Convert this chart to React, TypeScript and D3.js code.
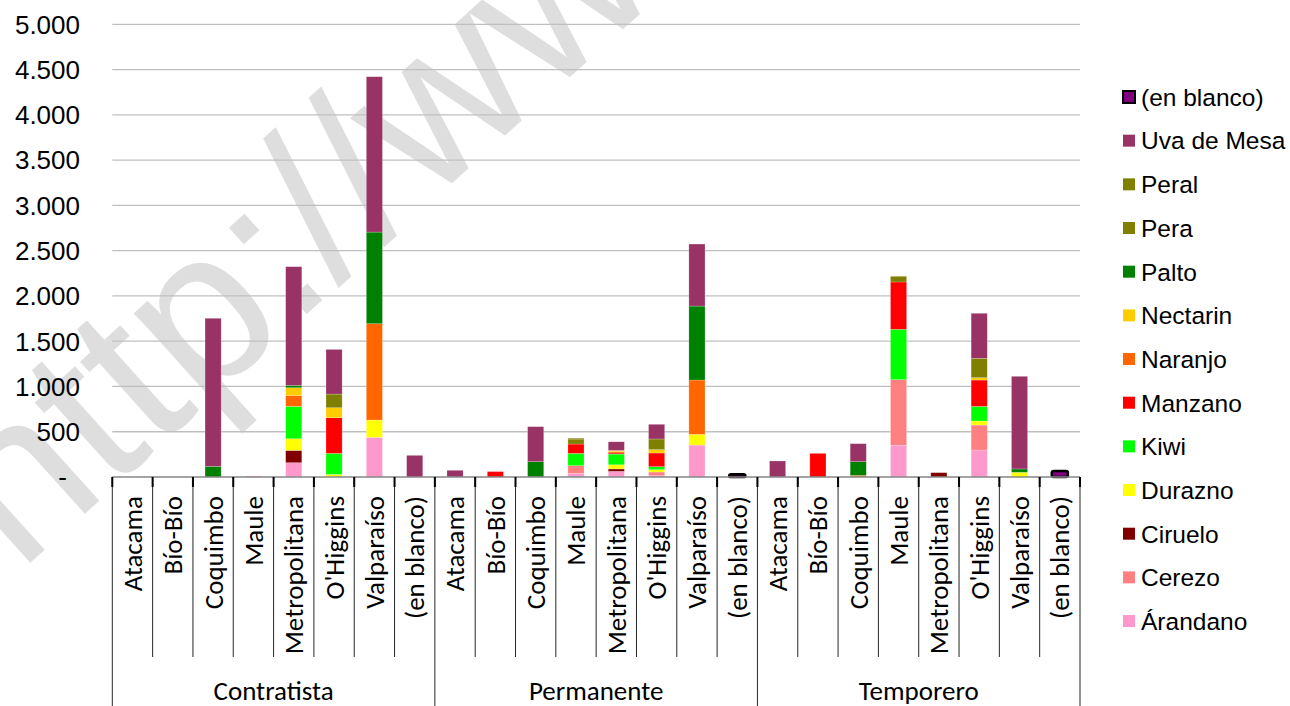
import { useEffect, useRef } from 'react';
import * as d3 from 'd3';

const groups = ['Contratista', 'Permanente', 'Temporero'];
const regions = ['Atacama', 'Bío-Bío', 'Coquimbo', 'Maule', 'Metropolitana', "O'Higgins", 'Valparaíso', '(en blanco)'];

// stack order, bottom to top
const seriesNames = ['Árandano', 'Cerezo', 'Ciruelo', 'Durazno', 'Kiwi', 'Manzano', 'Naranjo', 'Nectarin', 'Palto', 'Pera', 'Peral', 'Uva de Mesa', '(en blanco)'];
const seriesColors = ['#FF99CC', '#FF8080', '#800000', '#FFFF00', '#00FF00', '#FF0000', '#FF6600', '#FFCC00', '#008000', '#808000', '#808000', '#993366', '#800080'];

// values per series: Contratista (8 regions), Permanente (8), Temporero (8)
const arandano = [0, 0, 0, 0, 158, 0, 438, 0, 0, 0, 0, 40, 62, 15, 353, 0, 0, 0, 0, 350, 0, 298, 0, 0];
const cerezo = [0, 0, 0, 10, 0, 0, 0, 0, 0, 0, 0, 85, 0, 40, 0, 0, 0, 0, 0, 725, 0, 276, 0, 0];
const ciruelo = [0, 0, 0, 0, 136, 0, 0, 0, 0, 0, 0, 0, 27, 0, 0, 0, 0, 0, 0, 0, 48, 0, 0, 0];
const durazno = [0, 0, 0, 0, 129, 29, 191, 0, 0, 0, 0, 0, 46, 26, 118, 0, 0, 0, 0, 0, 0, 44, 52, 0];
const kiwi = [0, 0, 0, 0, 357, 232, 0, 0, 0, 0, 0, 136, 118, 33, 0, 0, 0, 0, 0, 556, 0, 162, 0, 0];
const manzano = [0, 0, 0, 0, 0, 394, 0, 0, 0, 60, 0, 103, 12, 151, 0, 0, 0, 261, 0, 523, 0, 291, 0, 0];
const naranjo = [0, 0, 0, 0, 118, 0, 1064, 0, 0, 0, 0, 0, 14, 0, 600, 0, 0, 0, 18, 0, 0, 0, 0, 0];
const nectarin = [0, 0, 0, 0, 88, 110, 0, 0, 0, 0, 0, 0, 14, 37, 0, 0, 0, 0, 0, 0, 0, 26, 0, 0];
const palto = [0, 0, 118, 0, 26, 0, 1012, 0, 0, 0, 169, 0, 0, 0, 817, 0, 0, 0, 151, 0, 0, 0, 37, 0];
const pera = [0, 0, 0, 0, 0, 151, 0, 0, 0, 0, 0, 55, 0, 118, 0, 0, 0, 0, 0, 63, 0, 214, 0, 0];
const peral = [0, 0, 0, 0, 0, 0, 0, 0, 0, 0, 0, 10, 0, 0, 0, 0, 0, 0, 0, 0, 0, 0, 0, 0];
const uvaDeMesa = [0, 0, 1635, 0, 1311, 493, 1716, 239, 74, 0, 387, 0, 96, 162, 685, 0, 177, 0, 199, 0, 0, 497, 1023, 0];
const enBlanco = [0, 0, 0, 0, 0, 0, 0, 0, 0, 0, 0, 0, 0, 0, 0, 30, 0, 0, 0, 0, 0, 0, 0, 65];

const seriesValues = [arandano, cerezo, ciruelo, durazno, kiwi, manzano, naranjo, nectarin, palto, pera, peral, uvaDeMesa, enBlanco];
const yTicks = [0, 500, 1000, 1500, 2000, 2500, 3000, 3500, 4000, 4500, 5000];

const W = 1290;
const H = 706;

export default function App() {
  const svgRef = useRef<SVGSVGElement>(null);

  useEffect(() => {
    if (!svgRef.current) return;
    const svg = d3.select(svgRef.current);
    svg.selectAll('*').remove();

    const left = 112.3, right = 1080, top = 24.3, bottom = 477;
    const keys = groups.flatMap(g => regions.map(r => `${g}|${r}`));
    const rows = keys.map((k, i) => {
      const row: Record<string, any> = { key: k };
      seriesNames.forEach((s, j) => { row[s] = seriesValues[j][i]; });
      return row;
    });

    const x = d3.scaleBand<string>().domain(keys).range([left, right]).paddingInner(0.6).paddingOuter(0.3);
    const step = x.step();
    const y = d3.scaleLinear().domain([0, 5000]).range([bottom, top]);
    const color = d3.scaleOrdinal<string, string>().domain(seriesNames).range(seriesColors);

    // watermark
    svg.append('text')
      .attr('transform', 'translate(19,573) rotate(-42)')
      .attr('font-family', 'Liberation Sans, Arial, sans-serif')
      .attr('font-size', 220)
      .attr('fill', '#dedede')
      .text('http://www.');

    // gridlines
    svg.append('g')
      .selectAll('line')
      .data(yTicks.slice(1))
      .join('line')
      .attr('x1', left).attr('x2', right)
      .attr('y1', d => y(d)).attr('y2', d => y(d))
      .attr('stroke', '#bfbfbf')
      .attr('stroke-width', 1.3);

    // y labels
    svg.append('g')
      .selectAll('text')
      .data(yTicks)
      .join('text')
      .attr('x', d => d === 0 ? 67 : 80)
      .attr('y', d => y(d))
      .attr('dy', '0.36em')
      .attr('text-anchor', 'end')
      .attr('font-family', 'Liberation Sans, Arial, sans-serif')
      .attr('font-size', 26)
      .attr('fill', '#000')
      .text(d => d === 0 ? '-' : d3.format(',')(d).replace(/,/g, '.'));

    // bars
    const stacked = d3.stack<Record<string, any>>().keys(seriesNames)(rows);
    svg.append('g')
      .selectAll('g')
      .data(stacked)
      .join('g')
      .attr('fill', d => color(d.key))
      .selectAll('rect')
      .data(d => d.filter(p => p[1] - p[0] > 0).map(p => ({ p, key: d.key })))
      .join('rect')
      .attr('x', d => x(d.p.data.key)!)
      .attr('width', x.bandwidth())
      .attr('y', d => y(d.p[1]))
      .attr('height', d => y(d.p[0]) - y(d.p[1]))
      .attr('stroke', d => d.key === '(en blanco)' ? '#000' : 'rgba(255,255,255,0.35)')
      .attr('stroke-width', d => d.key === '(en blanco)' ? 2.5 : 0.6)
      .attr('rx', d => d.key === '(en blanco)' ? 2 : 0);

    // x axis
    svg.append('line')
      .attr('x1', left).attr('x2', right)
      .attr('y1', bottom).attr('y2', bottom)
      .attr('stroke', '#868686')
      .attr('stroke-width', 1.5);

    const sepG = svg.append('g').attr('stroke', '#000');
    d3.range(keys.length + 1).forEach(i => {
      const xx = left + i * step;
      const isGroup = i % regions.length === 0;
      sepG.append('line')
        .attr('x1', xx).attr('x2', xx)
        .attr('y1', bottom).attr('y2', isGroup ? H : 657)
        .attr('stroke-width', 1)
        .attr('stroke-opacity', 0.85);
      sepG.append('line')
        .attr('x1', xx).attr('x2', xx)
        .attr('y1', bottom).attr('y2', bottom + 10)
        .attr('stroke-width', 2);
    });

    const labelFont = 'Carlito, Calibri, Lato, sans-serif';
    svg.append('g')
      .selectAll('text')
      .data(keys)
      .join('text')
      .attr('transform', d => `translate(${x(d)! + x.bandwidth() / 2},496) rotate(-90)`)
      .attr('dy', '0.35em')
      .attr('text-anchor', 'end')
      .attr('font-family', labelFont)
      .attr('font-size', 27)
      .attr('fill', '#000')
      .text(d => d.split('|')[1]);

    svg.append('g')
      .selectAll('text')
      .data(groups)
      .join('text')
      .attr('x', (g, i) => left + (i + 0.5) * regions.length * step)
      .attr('y', 700)
      .attr('text-anchor', 'middle')
      .attr('font-family', labelFont)
      .attr('font-size', 27)
      .attr('fill', '#000')
      .text(g => g);

    // legend, reverse order
    const legendItems = seriesNames.slice().reverse();
    const lg = svg.append('g')
      .selectAll('g')
      .data(legendItems)
      .join('g')
      .attr('transform', (d, i) => `translate(1123,${97 + i * 43.67})`);
    lg.append('rect')
      .attr('x', 0).attr('y', -6)
      .attr('width', 12).attr('height', 12)
      .attr('fill', d => color(d))
      .attr('stroke', d => d === '(en blanco)' ? '#000' : 'none')
      .attr('stroke-width', 2);
    lg.append('text')
      .attr('x', 18)
      .attr('dy', '0.36em')
      .attr('font-family', 'Liberation Sans, Arial, sans-serif')
      .attr('font-size', 24.5)
      .attr('fill', '#000')
      .text(d => d);
  }, []);

  return (
    <svg
      ref={svgRef}
      width={W}
      height={H}
      style={{ position: 'absolute', left: 0, top: 0, background: '#fff' }}
    />
  );
}
